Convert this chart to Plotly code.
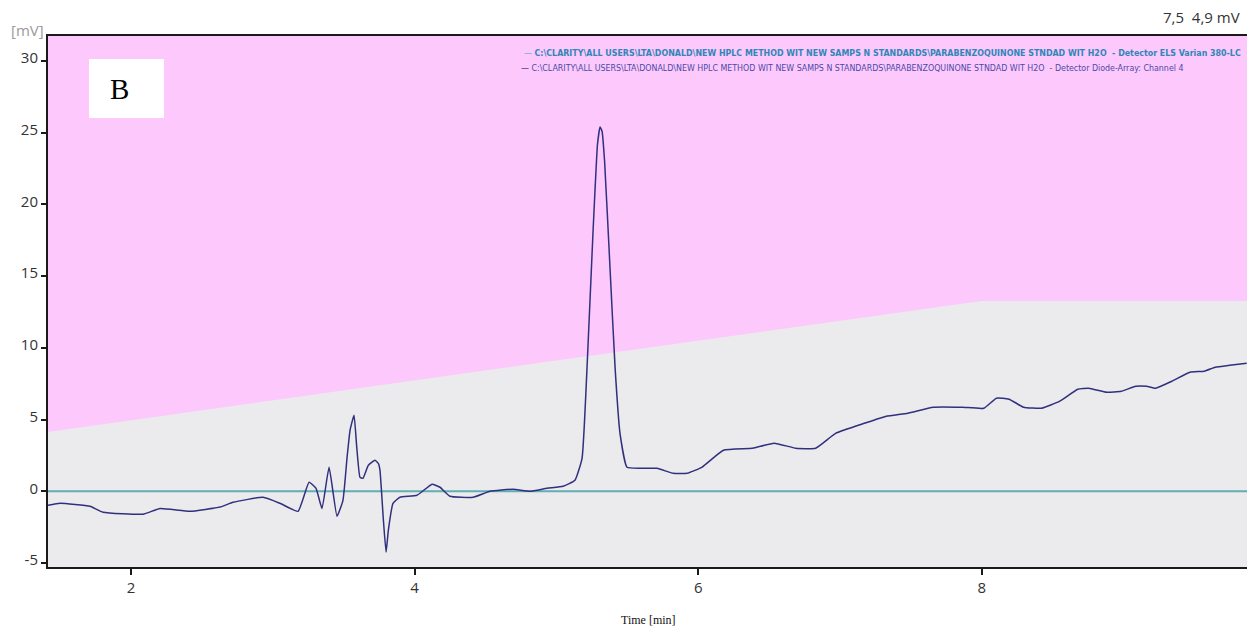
import plotly.graph_objects as go

# ---------------- data ----------------
time_min = [1.415, 1.500, 1.711, 1.803, 2.085, 2.205, 2.416, 2.628, 2.720, 2.931,
            3.051, 3.178, 3.256, 3.305, 3.347, 3.397, 3.453, 3.495, 3.524, 3.545,
            3.573, 3.592, 3.615, 3.636, 3.674, 3.721, 3.745, 3.756, 3.780, 3.799,
            3.815, 3.848, 3.897, 4.017, 4.123, 4.179, 4.250, 4.412, 4.532, 4.694,
            4.814, 4.934, 5.047, 5.131, 5.181, 5.216, 5.258, 5.290, 5.308,
            5.322, 5.340, 5.378, 5.414, 5.449, 5.498, 5.590, 5.710, 5.823, 5.921,
            6.025, 6.178, 6.382, 6.535, 6.688, 6.828, 6.969, 7.173, 7.326, 7.478,
            7.657, 7.861, 8.014, 8.103, 8.192, 8.294, 8.422, 8.550, 8.677, 8.753,
            8.881, 8.983, 9.085, 9.162, 9.225, 9.340, 9.468, 9.569, 9.646, 9.748,
            9.868]
dad_signal = [-0.98, -0.84, -1.05, -1.46, -1.60, -1.20, -1.40, -1.10, -0.77, -0.42,
              -0.84, -1.40, 0.63, 0.20, -1.20, 1.67, -1.74, -0.63, 2.37, 4.25,
              5.30, 3.09, 0.98, 0.90, 1.81, 2.16, 1.93, 1.46, -2.00, -4.25,
              -2.72, -0.84, -0.42, -0.28, 0.49, 0.28, -0.35, -0.42, 0.00, 0.14,
              0.00, 0.21, 0.35, 0.77, 2.30, 8.60, 18.00, 24.20, 25.40,
              25.10, 23.00, 15.60, 8.60, 4.00, 1.67, 1.60, 1.60, 1.25, 1.25,
              1.67, 2.86, 3.00, 3.35, 3.00, 3.00, 4.04, 4.74, 5.23, 5.44,
              5.86, 5.86, 5.79, 6.49, 6.42, 5.86, 5.79, 6.28, 7.11, 7.18,
              6.90, 6.97, 7.32, 7.32, 7.18, 7.67, 8.30, 8.37, 8.65, 8.79,
              8.93]

els_time = [1.415, 9.87]
els_signal = [0.0, 0.0]

gradient_time = [1.415, 8.0, 9.87]
gradient_level = [4.14, 13.27, 13.27]

y_ticks = [-5, 0, 5, 10, 15, 20, 25, 30]
y_tick_labels = ["-5", "0", "5", "10", "15", "20", "25", "30"]
x_ticks = [2, 4, 6, 8]
x_tick_labels = ["2", "4", "6", "8"]

legend_lines = [
    "C:\\CLARITY\\ALL USERS\\LTA\\DONALD\\NEW HPLC METHOD WIT NEW SAMPS N STANDARDS\\PARABENZOQUINONE STNDAD WIT H2O  - Detector ELS Varian 380-LC",
    "C:\\CLARITY\\ALL USERS\\LTA\\DONALD\\NEW HPLC METHOD WIT NEW SAMPS N STANDARDS\\PARABENZOQUINONE STNDAD WIT H2O  - Detector Diode-Array: Channel 4",
]

# ---------------- layout geometry (pixels) ----------------
W, H = 1247, 628
L, R, T, B = 48, 0, 36, 61
PW, PH = W - L - R, H - T - B


def px(x):
    return (x - L) / PW


def py(y):
    return (H - B - y) / PH


Y_RANGE = [-5.28, 31.74]
X_RANGE = [1.415, 9.87]

PINK = "#FDC9FD"
GREY = "#EBEBED"
TEAL = "#62AEB2"
NAVY = "#30307E"

fig = go.Figure()

# grey gradient region
fig.add_trace(go.Scatter(
    x=gradient_time + [gradient_time[-1], gradient_time[0]],
    y=gradient_level + [Y_RANGE[0] - 5, Y_RANGE[0] - 5],
    fill="toself", fillcolor=GREY, mode="lines", line=dict(width=0),
    hoverinfo="skip", showlegend=False,
))

# ELS detector line
fig.add_trace(go.Scatter(
    x=els_time, y=els_signal, mode="lines",
    line=dict(color=TEAL, width=2), showlegend=False,
))

# DAD channel 4 trace
fig.add_trace(go.Scatter(
    x=time_min, y=dad_signal, mode="lines",
    line=dict(color=NAVY, width=1.5, shape="spline", smoothing=0.4), showlegend=False,
))

tick_font = dict(family="Open Sans, Noto Sans, sans-serif", size=15, color="#333333")

fig.update_layout(
    width=W, height=H,
    margin=dict(l=L, r=R, t=T, b=B, pad=0),
    paper_bgcolor="white",
    plot_bgcolor=PINK,
    showlegend=False,
    xaxis=dict(
        range=X_RANGE, tickvals=x_ticks, ticktext=x_tick_labels,
        showgrid=False, zeroline=False,
        showline=True, linecolor="#1a1a1a", linewidth=2, mirror=True,
        ticks="outside", ticklen=6, tickwidth=1.5, tickcolor="#1a1a1a",
        tickfont=tick_font,
    ),
    yaxis=dict(
        range=Y_RANGE, tickvals=y_ticks, ticktext=y_tick_labels,
        showgrid=False, zeroline=False,
        showline=True, linecolor="#1a1a1a", linewidth=2,
        ticks="outside", ticklen=5, tickwidth=1.5, tickcolor="#1a1a1a",
        tickfont=tick_font, ticklabelshift=-3,
    ),
)

legend_family = "Liberation Sans Narrow, Arial Narrow, DejaVu Sans Condensed, sans-serif"
annotations = [
    dict(x=px(9), y=py(30), xref="paper", yref="paper", text="[mV]",
         showarrow=False, xanchor="left", yanchor="middle",
         font=dict(family="Open Sans, Noto Sans, sans-serif", size=15, color="#9a9a9a")),
    dict(x=px(1242), y=py(17), xref="paper", yref="paper", text="7,5\u00a0\u00a04,9 mV",
         showarrow=False, xanchor="right", yanchor="middle",
         font=dict(family="Open Sans, Noto Sans, sans-serif", size=15, color="#333333")),
    dict(x=px(648), y=py(620), xref="paper", yref="paper", text="Time [min]",
         showarrow=False, xanchor="center", yanchor="middle",
         font=dict(family="Liberation Serif, Times New Roman, serif", size=12, color="#111111")),
    dict(x=px(119), y=py(89), xref="paper", yref="paper", text="B",
         showarrow=False, xanchor="center", yanchor="middle",
         font=dict(family="Liberation Serif, Times New Roman, serif", size=29, color="#000000")),
    dict(x=px(1243), y=py(53), xref="paper", yref="paper",
         text="<span style='color:%s'>\u2014</span> <b>%s</b>" % (TEAL, legend_lines[0]),
         showarrow=False, xanchor="right", yanchor="middle",
         font=dict(family=legend_family, size=8.8, color="#2F86B8")),
    dict(x=px(1186), y=py(68), xref="paper", yref="paper",
         text="<span style='color:%s'>\u2014</span> %s" % (NAVY, legend_lines[1]),
         showarrow=False, xanchor="right", yanchor="middle",
         font=dict(family=legend_family, size=8.8, color="#4A4AA6")),
]
fig.update_layout(annotations=annotations)

fig.add_shape(type="rect", xref="paper", yref="paper",
              x0=px(89), x1=px(164), y0=py(118), y1=py(59),
              fillcolor="white", line=dict(width=0), layer="above")

fig.write_html("out.html")
